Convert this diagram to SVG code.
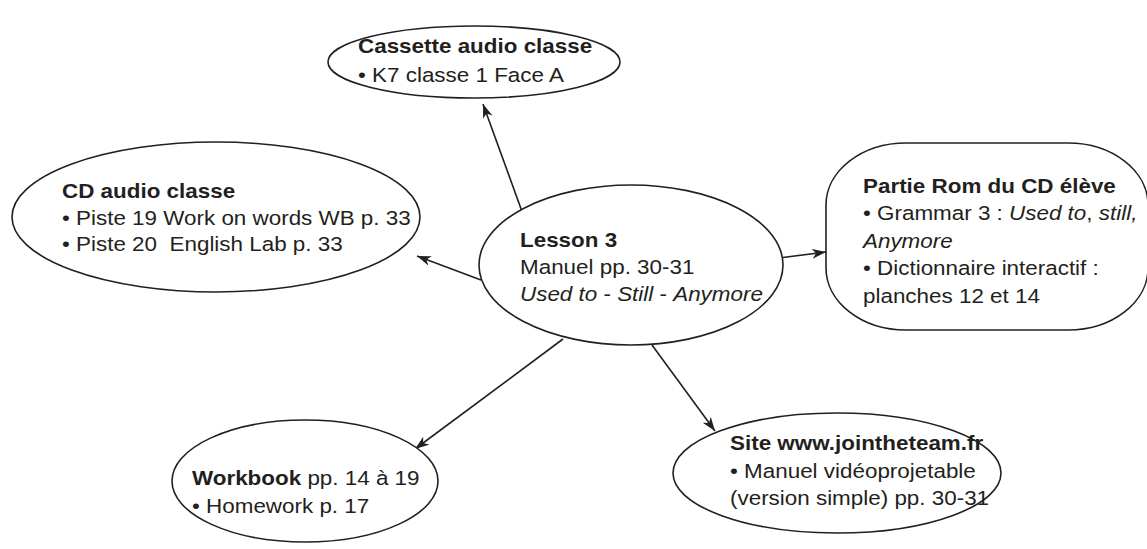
<svg xmlns="http://www.w3.org/2000/svg" width="1147" height="549" viewBox="0 0 1147 549">
<style>
.shape{fill:#fff;stroke:#231f20;stroke-width:1.6}
.t{font-family:"Liberation Sans",Arial,sans-serif;font-size:19.5px;fill:#231f20;white-space:pre}
.b{font-weight:bold}
.i{font-style:italic}
.conn line{stroke:#231f20;stroke-width:1.6}
</style>
<defs>
<marker id="arr" markerUnits="userSpaceOnUse" markerWidth="16" markerHeight="12" refX="14" refY="5" orient="auto">
<path d="M0,0 L14,5 L0,10 L4,5 z" fill="#231f20"/>
</marker>
</defs>
<rect width="1147" height="549" fill="#fff"/>
<g class="conn">
<line x1="524" y1="217" x2="483" y2="104" marker-end="url(#arr)"/>
<line x1="481" y1="280" x2="417" y2="256" marker-end="url(#arr)"/>
<line x1="779" y1="258" x2="826" y2="252" marker-end="url(#arr)"/>
<line x1="563" y1="339" x2="415" y2="449" marker-end="url(#arr)"/>
<line x1="652" y1="345" x2="715" y2="431" marker-end="url(#arr)"/>
</g>
<g id="cassette">
<ellipse class="shape" cx="474" cy="62" rx="146" ry="36"/>
<text class="t b" transform="translate(358,53) scale(1.15,1)">Cassette audio classe</text>
<text class="t" transform="translate(358,82) scale(1.15,1)">• K7 classe 1 Face A</text>
</g>
<g id="cdaudio">
<ellipse class="shape" cx="216" cy="217" rx="204" ry="75"/>
<text class="t b" transform="translate(62,198) scale(1.15,1)">CD audio classe</text>
<text class="t" transform="translate(62,224.5) scale(1.15,1)">• Piste 19 Work on words WB p. 33</text>
<text class="t" transform="translate(62,251) scale(1.15,1)">• Piste 20  English Lab p. 33</text>
</g>
<g id="lesson">
<ellipse class="shape" cx="631" cy="265" rx="152" ry="80"/>
<text class="t b" transform="translate(520,247) scale(1.15,1)">Lesson 3</text>
<text class="t" transform="translate(520,274) scale(1.15,1)">Manuel pp. 30-31</text>
<text class="t" transform="translate(520,301) scale(1.15,1)"><tspan class="i">Used to</tspan> - <tspan class="i">Still</tspan> - <tspan class="i">Anymore</tspan></text>
</g>
<g id="rom">
<rect class="shape" x="826" y="143" width="322" height="187" rx="80" ry="62"/>
<text class="t b" transform="translate(863,193) scale(1.15,1)">Partie Rom du CD élève</text>
<text class="t" transform="translate(863,219.5) scale(1.15,1)">• Grammar 3 : <tspan class="i">Used to</tspan>, <tspan class="i">still,</tspan></text>
<text class="t i" transform="translate(863,247.5) scale(1.15,1)">Anymore</text>
<text class="t" transform="translate(863,275) scale(1.15,1)">• Dictionnaire interactif :</text>
<text class="t" transform="translate(863,302.5) scale(1.15,1)">planches 12 et 14</text>
</g>
<g id="workbook">
<ellipse class="shape" cx="305" cy="481" rx="133" ry="61"/>
<text class="t" transform="translate(192,485) scale(1.15,1)"><tspan class="b">Workbook</tspan> pp. 14 à 19</text>
<text class="t" transform="translate(192,513) scale(1.15,1)">• Homework p. 17</text>
</g>
<g id="site">
<ellipse class="shape" cx="837" cy="473" rx="164" ry="60"/>
<text class="t b" transform="translate(730,450) scale(1.15,1)">Site www.jointheteam.fr</text>
<text class="t" transform="translate(730,478) scale(1.15,1)">• Manuel vidéoprojetable</text>
<text class="t" transform="translate(730,505) scale(1.15,1)">(version simple) pp. 30-31</text>
</g>
</svg>
